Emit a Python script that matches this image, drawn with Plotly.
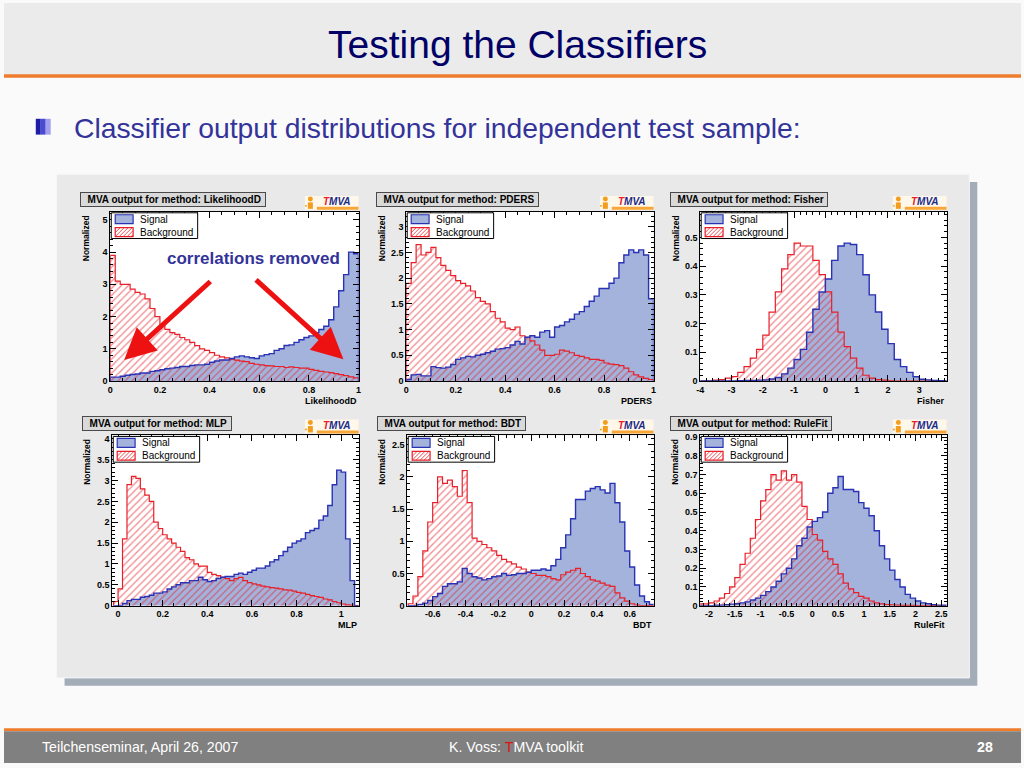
import numpy as np
import plotly.graph_objects as go

W, H = 1024, 768
FONT = "Liberation Sans, Arial, Helvetica, sans-serif"

# ------------------------------------------------------------------ data
TITLE = "Testing the Classifiers"
SUBTITLE = "Classifier output distributions for independent test sample:"
FOOT_LEFT = "Teilchenseminar, April 26, 2007"
FOOT_MID = "K. Voss: <span style='color:#e01010'>T</span>MVA toolkit"
FOOT_RIGHT = "28"
NOTE = "correlations removed"
LEG_SIG = "Signal"
LEG_BKG = "Background"

# LikelihoodD: 50 bins of 0.02 from 0
LIK_LO, LIK_W = 0.0, 0.02
lik_sig = [0.12, 0.12, 0.15, 0.18, 0.20, 0.22, 0.25, 0.25, 0.30, 0.32,
           0.35, 0.38, 0.40, 0.42, 0.45, 0.45, 0.48, 0.50, 0.50, 0.52,
           0.58, 0.62, 0.65, 0.65, 0.70, 0.75, 0.78, 0.75, 0.72, 0.70,
           0.78, 0.82, 0.85, 0.95, 1.00, 1.10, 1.12, 1.20, 1.28, 1.35,
           1.40, 1.50, 1.60, 1.70, 1.90, 2.30, 2.80, 3.30, 4.00, 3.95]
lik_bkg = [3.90, 3.10, 3.00, 3.00, 2.85, 2.75, 2.70, 2.55, 2.25, 2.00,
           1.75, 1.60, 1.50, 1.45, 1.35, 1.28, 1.20, 1.10, 1.00, 0.95,
           0.88, 0.80, 0.75, 0.72, 0.68, 0.65, 0.62, 0.60, 0.55, 0.52,
           0.50, 0.48, 0.47, 0.45, 0.45, 0.42, 0.44, 0.42, 0.40, 0.40,
           0.36, 0.33, 0.30, 0.28, 0.26, 0.23, 0.20, 0.17, 0.13, 0.10]
LIK_XT = [0, 0.2, 0.4, 0.6, 0.8, 1]
LIK_YT = [0, 1, 2, 3, 4, 5]

# PDERS: 50 bins of 0.02 from 0
PD_LO, PD_W = 0.0, 0.02
pd_sig = [0.03, 0.12, 0.13, 0.10, 0.10, 0.28, 0.26, 0.25, 0.27, 0.32,
          0.42, 0.45, 0.48, 0.47, 0.50, 0.52, 0.55, 0.58, 0.62, 0.63,
          0.65, 0.70, 0.77, 0.72, 0.85, 0.88, 0.85, 0.95, 0.98, 0.85,
          1.05, 1.08, 1.15, 1.20, 1.30, 1.35, 1.45, 1.55, 1.65, 1.80,
          1.80, 1.90, 2.00, 2.30, 2.45, 2.55, 2.50, 2.55, 2.45, 1.60]
pd_bkg = [1.90, 2.30, 2.65, 2.45, 2.50, 2.60, 2.40, 2.25, 2.15, 2.05,
          1.95, 1.90, 1.85, 1.75, 1.62, 1.55, 1.50, 1.35, 1.22, 1.15,
          1.03, 1.00, 1.05, 0.88, 0.85, 0.78, 0.70, 0.60, 0.50, 0.50,
          0.52, 0.60, 0.58, 0.55, 0.50, 0.48, 0.45, 0.42, 0.42, 0.40,
          0.35, 0.33, 0.32, 0.30, 0.25, 0.18, 0.12, 0.08, 0.05, 0.03]
PD_XT = [0, 0.2, 0.4, 0.6, 0.8, 1]
PD_YT = [0, 0.5, 1, 1.5, 2, 2.5, 3]

# Fisher: 40 bins of 0.2 from -4
FI_LO, FI_W = -4.0, 0.2
fi_sig = [0, 0, 0, 0, 0, 0, 0.001, 0.002, 0.002, 0.003,
          0.004, 0.007, 0.012, 0.025, 0.045, 0.075, 0.11, 0.17, 0.25, 0.31,
          0.355, 0.42, 0.47, 0.48, 0.475, 0.44, 0.37, 0.30, 0.24, 0.18,
          0.13, 0.075, 0.05, 0.03, 0.015, 0.006, 0.004, 0.002, 0.001, 0]
fi_bkg = [0, 0, 0.003, 0.005, 0.01, 0.015, 0.03, 0.05, 0.08, 0.11,
          0.16, 0.24, 0.31, 0.39, 0.44, 0.48, 0.47, 0.47, 0.42, 0.37,
          0.31, 0.24, 0.17, 0.12, 0.08, 0.045, 0.02, 0.01, 0.005, 0.003,
          0.001, 0, 0, 0, 0, 0, 0, 0, 0, 0]
FI_XT = [-4, -3, -2, -1, 0, 1, 2, 3]
FI_YT = [0, 0.1, 0.2, 0.3, 0.4, 0.5]

# MLP: 55 bins of 0.02 from -0.02
ML_LO, ML_W = -0.02, 0.02
ml_sig = [0.0, 0.0, 0.05, 0.12, 0.15, 0.15, 0.20, 0.22, 0.25, 0.30,
          0.30, 0.33, 0.40, 0.45, 0.50, 0.55, 0.55, 0.60, 0.60, 0.68,
          0.62, 0.58, 0.60, 0.65, 0.68, 0.70, 0.70, 0.75, 0.78, 0.75,
          0.80, 0.85, 0.90, 0.90, 0.95, 1.05, 1.10, 1.20, 1.30, 1.40,
          1.50, 1.55, 1.60, 1.75, 1.80, 1.85, 2.05, 2.15, 2.40, 2.90,
          3.25, 3.20, 1.60, 0.60, 0.0]
ml_bkg = [0.10, 0.40, 1.60, 2.90, 3.10, 3.05, 2.80, 2.65, 2.50, 2.00,
          1.85, 1.70, 1.60, 1.50, 1.40, 1.30, 1.15, 1.10, 1.00, 0.95,
          0.95, 0.80, 0.75, 0.72, 0.68, 0.65, 0.60, 0.65, 0.68, 0.60,
          0.55, 0.52, 0.50, 0.47, 0.45, 0.43, 0.42, 0.40, 0.38, 0.37,
          0.35, 0.32, 0.30, 0.27, 0.24, 0.22, 0.20, 0.16, 0.14, 0.10,
          0.07, 0.04, 0.02, 0.01, 0.0]
ML_XT = [0, 0.2, 0.4, 0.6, 0.8, 1]
ML_YT = [0, 0.5, 1, 1.5, 2, 2.5, 3, 3.5, 4]

# BDT: 50 bins of 0.03 from -0.75
BD_LO, BD_W = -0.75, 0.03
bd_sig = [0.0, 0.0, 0.02, 0.04, 0.08, 0.14, 0.19, 0.30, 0.34, 0.34,
          0.37, 0.58, 0.50, 0.45, 0.43, 0.40, 0.42, 0.45, 0.46, 0.50,
          0.47, 0.48, 0.50, 0.50, 0.52, 0.55, 0.55, 0.57, 0.55, 0.62,
          0.72, 0.90, 1.10, 1.35, 1.65, 1.65, 1.78, 1.82, 1.85, 1.80,
          1.75, 1.90, 1.60, 1.30, 0.85, 0.60, 0.32, 0.15, 0.06, 0.02]
bd_bkg = [0.03, 0.15, 0.45, 0.85, 1.30, 1.60, 2.00, 1.90, 1.95, 1.85,
          1.70, 2.10, 1.60, 1.05, 1.00, 0.95, 0.90, 0.85, 0.78, 0.72,
          0.68, 0.65, 0.60, 0.57, 0.52, 0.50, 0.47, 0.47, 0.45, 0.42,
          0.40, 0.48, 0.52, 0.55, 0.58, 0.50, 0.45, 0.40, 0.38, 0.35,
          0.32, 0.30, 0.20, 0.12, 0.07, 0.03, 0.01, 0.0, 0.0, 0.0]
BD_XT = [-0.6, -0.4, -0.2, 0, 0.2, 0.4, 0.6]
BD_YT = [0, 0.5, 1, 1.5, 2, 2.5]

# RuleFit: 48 bins of 0.1 from -2.2
RF_LO, RF_W = -2.2, 0.1
rf_sig = [0, 0, 0, 0.002, 0.003, 0.005, 0.008, 0.01, 0.015, 0.02,
          0.03, 0.04, 0.055, 0.075, 0.10, 0.13, 0.17, 0.20, 0.25, 0.32,
          0.36, 0.42, 0.45, 0.47, 0.50, 0.60, 0.63, 0.69, 0.62, 0.62,
          0.61, 0.55, 0.52, 0.48, 0.40, 0.32, 0.25, 0.19, 0.14, 0.10,
          0.06, 0.04, 0.025, 0.015, 0.01, 0.005, 0.003, 0.002]
rf_bkg = [0.01, 0.01, 0.015, 0.025, 0.04, 0.065, 0.10, 0.15, 0.22, 0.28,
          0.36, 0.46, 0.56, 0.62, 0.70, 0.67, 0.72, 0.67, 0.70, 0.66,
          0.53, 0.46, 0.38, 0.35, 0.29, 0.25, 0.22, 0.17, 0.12, 0.09,
          0.07, 0.05, 0.04, 0.025, 0.015, 0.01, 0.006, 0.004, 0.003, 0.002,
          0.001, 0.001, 0, 0, 0, 0, 0, 0]
RF_XT = [-2, -1.5, -1, -0.5, 0, 0.5, 1, 1.5, 2, 2.5]
RF_YT = [0, 0.1, 0.2, 0.3, 0.4, 0.5, 0.6, 0.7, 0.8, 0.9]

# ------------------------------------------------------------------ style
SIG_FILL = "#a3b3dc"
SIG_LINE = "#2a32b4"
BKG_LINE = "#e8202a"
NAVY = "#000066"
PURPLE = "#333399"
ORANGE = "#ef7b2c"

panels = [
    dict(name="LikelihoodD", lo=LIK_LO, w=LIK_W, sig=lik_sig, bkg=lik_bkg,
         box=(107, 211, 357, 382), xr=[0, 1], yr=[0, 5.25],
         xt=LIK_XT, yt=LIK_YT, xm=0.05, ym=0.2),
    dict(name="PDERS", lo=PD_LO, w=PD_W, sig=pd_sig, bkg=pd_bkg,
         box=(405, 211, 654, 382), xr=[0, 1], yr=[0, 3.29],
         xt=PD_XT, yt=PD_YT, xm=0.05, ym=0.1),
    dict(name="Fisher", lo=FI_LO, w=FI_W, sig=fi_sig, bkg=fi_bkg,
         box=(701, 211, 949, 382), xr=[-4, 3.87], yr=[0, 0.589],
         xt=FI_XT, yt=FI_YT, xm=0.2, ym=0.02),
    dict(name="MLP", lo=ML_LO, w=ML_W, sig=ml_sig, bkg=ml_bkg,
         box=(109, 437, 357, 609), xr=[-0.026, 1.078], yr=[0, 4.08],
         xt=ML_XT, yt=ML_YT, xm=0.05, ym=0.1),
    dict(name="BDT", lo=BD_LO, w=BD_W, sig=bd_sig, bkg=bd_bkg,
         box=(406, 437, 654, 609), xr=[-0.755, 0.745], yr=[0, 2.645],
         xt=BD_XT, yt=BD_YT, xm=0.05, ym=0.1),
    dict(name="RuleFit", lo=RF_LO, w=RF_W, sig=rf_sig, bkg=rf_bkg,
         box=(701, 437, 949, 609), xr=[-2.17, 2.6], yr=[0, 0.909],
         xt=RF_XT, yt=RF_YT, xm=0.1, ym=0.02),
]


def fmt(v):
    return "%g" % v


def step(lo, w, vals):
    vals = np.asarray(vals, dtype=float)
    n = len(vals)
    edges = lo + w * np.arange(n + 1)
    x = np.concatenate([[edges[0]], edges[:-1], [edges[-1], edges[-1]]])
    y = np.concatenate([[0.0], vals, [vals[-1], 0.0]])
    return x, y


def px(x):
    return x / W


def py(y):
    return 1 - y / H


def rect(x0, y0, x1, y1, fill, line=None, lw=0, layer="below"):
    return dict(type="rect", xref="paper", yref="paper",
                x0=px(x0), x1=px(x1), y0=py(y1), y1=py(y0),
                fillcolor=fill, line=dict(color=line or fill, width=lw),
                layer=layer)


def circ(x0, y0, x1, y1, fill, layer="above"):
    return dict(type="circle", xref="paper", yref="paper",
                x0=px(x0), x1=px(x1), y0=py(y1), y1=py(y0),
                fillcolor=fill, line=dict(width=0), layer=layer)


def seg(x0, y0, x1, y1, color, w=1, layer="above"):
    return dict(type="line", xref="paper", yref="paper",
                x0=px(x0), x1=px(x1), y0=py(y0), y1=py(y1),
                line=dict(color=color, width=w), layer=layer)


def ann(x, y, text, size, color="black", xa="center", ya="middle",
        weight="normal", style="normal", **kw):
    d = dict(x=px(x), y=py(y), xref="paper", yref="paper", text=text,
             showarrow=False, xanchor=xa, yanchor=ya,
             font=dict(family=FONT, size=size, color=color,
                       weight=weight, style=style))
    d.update(kw)
    return d


shapes = []
annotations = []

# slide frame
shapes.append(rect(0, 0, W, 72, "#ebebeb"))
shapes.append(rect(0, 72, W, 75.5, ORANGE))
shapes.append(rect(0, 733, W, 736, ORANGE))
shapes.append(rect(0, 736, W, H, "#808080"))
# bullet
shapes.append(rect(32, 117, 37, 133, "#1c1ca6"))
shapes.append(rect(37, 117, 42, 133, "#4b4bd2"))
shapes.append(rect(42, 117, 47, 133, "#a0a0ee"))
# big panel with shadow
shapes.append(rect(61, 181, 980, 690, "#a3adb8"))
shapes.append(rect(53, 173, 972, 682, "#e9e9e9", line="#f7f7f7", lw=1))

annotations.append(ann(517, 42, TITLE, 39, NAVY))
annotations.append(ann(68, 126, SUBTITLE, 28.3, PURPLE, xa="left"))
annotations.append(ann(36, 752, FOOT_LEFT, 14.2, "white", xa="left"))
annotations.append(ann(516, 752, FOOT_MID, 14.2, "white"))
annotations.append(ann(998, 752, FOOT_RIGHT, 14.2, "white", xa="right",
                       weight="bold"))

fig = go.Figure()
layout_axes = {}
common = dict(showline=True, linecolor="black", linewidth=1, mirror="allticks",
              ticks="inside", ticklen=6, tickwidth=1, tickcolor="black",
              showgrid=False, zeroline=False, fixedrange=True,
              tickfont=dict(family=FONT, size=9, color="black", weight="bold"))

for i, p in enumerate(panels, start=1):
    sfx = "" if i == 1 else str(i)
    xa, ya = "x" + sfx, "y" + sfx
    L, T, R, B = p["box"]

    xs, ys = step(p["lo"], p["w"], p["sig"])
    xb, yb = step(p["lo"], p["w"], p["bkg"])
    fig.add_trace(go.Scatter(x=xs, y=ys, mode="lines", xaxis=xa, yaxis=ya,
                             line=dict(width=0, color=SIG_FILL, shape="hv"),
                             fill="tozeroy", fillcolor=SIG_FILL,
                             hoverinfo="skip"))
    fig.add_trace(go.Scatter(x=xb, y=yb, mode="lines", xaxis=xa, yaxis=ya,
                             line=dict(width=1.2, color=BKG_LINE, shape="hv"),
                             fill="tozeroy", fillcolor="rgba(0,0,0,0)",
                             fillpattern=dict(shape="/", fgcolor=BKG_LINE,
                                              bgcolor="rgba(0,0,0,0)",
                                              size=5, solidity=0.28),
                             hoverinfo="skip"))
    fig.add_trace(go.Scatter(x=xs, y=ys, mode="lines", xaxis=xa, yaxis=ya,
                             line=dict(width=1.4, color=SIG_LINE, shape="hv"),
                             hoverinfo="skip"))

    layout_axes["xaxis" + sfx] = dict(
        domain=[px(L), px(R)], anchor=ya, range=p["xr"],
        tickmode="array", tickvals=p["xt"], ticktext=[fmt(v) for v in p["xt"]],
        minor=dict(ticks="inside", ticklen=3, tickcolor="black",
                   dtick=p["xm"], tick0=0), **common)
    layout_axes["yaxis" + sfx] = dict(
        domain=[py(B), py(T)], anchor=xa, range=p["yr"],
        tickmode="array", tickvals=p["yt"], ticktext=[fmt(v) for v in p["yt"]],
        minor=dict(ticks="inside", ticklen=3, tickcolor="black",
                   dtick=p["ym"], tick0=0), **common)

    # white plot area
    shapes.append(rect(L, T, R, B, "white"))

    # title box
    annotations.append(ann(L - 30, T - 20,
                           "\u00a0\u00a0MVA output for method: " + p["name"] + "\u00a0",
                           10, "black", xa="left", ya="top", weight="bold",
                           bgcolor="#d9d9d9", bordercolor="#4a4a4a",
                           borderwidth=1, borderpad=1))
    # axis titles
    annotations.append(ann(L - 25, T + 1, "Normalized", 8.5, "black",
                           ya="top", weight="bold", textangle=-90))
    annotations.append(ann(R, B + 20, p["name"], 9, "black", xa="right",
                           weight="bold"))

    # TMVA logo
    shapes.append(rect(R - 54, T - 16, R, T - 2, "#fff8ea", layer="above"))
    shapes.append(rect(R - 42, T - 5, R, T - 2, "#f7a637", layer="above"))
    shapes.append(circ(R - 51, T - 15.5, R - 46, T - 10.5, "#f39c1e"))
    shapes.append(rect(R - 51, T - 9.5, R - 46, T - 3, "#f39c1e", layer="above"))
    shapes.append(circ(R - 54, T - 7, R - 52, T - 5, "#f39c1e"))
    annotations.append(ann(R - 22, T - 10.5,
                           "<span style='color:#e8202a'>T</span>MVA",
                           10, "#1a2a8a", weight="bold", style="italic"))

    # legend box
    shapes.append(rect(L + 1, T + 1, L + 88, T + 27, "white", line="black",
                       lw=1, layer="above"))
    shapes.append(rect(L + 5, T + 3, L + 23, T + 12, SIG_FILL, line=SIG_LINE,
                       lw=1.2, layer="above"))
    sx0, sy0, sx1, sy1 = L + 5, T + 16, L + 23, T + 25
    shapes.append(rect(sx0, sy0, sx1, sy1, "white", line=BKG_LINE, lw=1.2,
                       layer="above"))
    hh = sy1 - sy0
    ww = sx1 - sx0
    for d in range(-8, 18, 4):
        s0 = max(0, -d)
        s1 = min(hh, ww - d)
        if s1 > s0:
            shapes.append(seg(sx0 + d + s0, sy1 - s0, sx0 + d + s1, sy1 - s1,
                              BKG_LINE, 0.8))
    annotations.append(ann(L + 28, T + 7.5, LEG_SIG, 10, "black", xa="left"))
    annotations.append(ann(L + 28, T + 20.5, LEG_BKG, 10, "black", xa="left"))

# note and arrows in the LikelihoodD panel
annotations.append(dict(x=px(251), y=py(258), xref="paper", yref="paper",
                        xanchor="center", yanchor="middle",
                        text="<b>" + NOTE + "</b>", showarrow=False,
                        font=dict(family=FONT, size=17, color=PURPLE,
                                  shadow="1px 1px 2px #ffffff")))
for hx, hy, tx, ty in [(0.056, 0.654, 0.409, 3.13), (0.939, 0.675, 0.581, 3.18)]:
    annotations.append(dict(x=hx, y=hy, ax=tx, ay=ty, xref="x", yref="y",
                            axref="x", ayref="y", text="", showarrow=True,
                            arrowhead=2, arrowsize=1.25, arrowwidth=5,
                            arrowcolor="#ee1111"))

fig.update_layout(
    width=W, height=H, margin=dict(l=0, r=0, t=0, b=0),
    paper_bgcolor="#fafafa", plot_bgcolor="white", showlegend=False,
    shapes=shapes, annotations=annotations, **layout_axes)

fig.write_html(
    "out.html",
    config={"displayModeBar": False, "staticPlot": True},
    post_script=("document.documentElement.style.margin='0';"
                 "document.body.style.margin='0';"
                 "document.body.style.overflow='hidden';"
                 "var d=document.getElementById('{plot_id}');"
                 "d.style.position='fixed';d.style.left='0px';d.style.top='0px';"))
